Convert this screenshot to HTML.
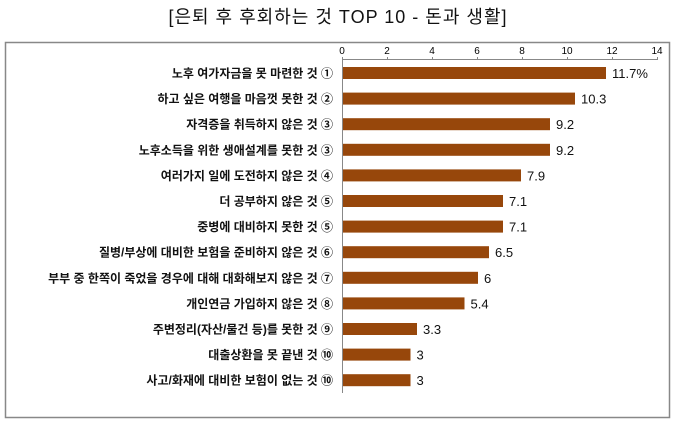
<!DOCTYPE html>
<html><head><meta charset="utf-8"><style>
body{margin:0;background:#fff;}
</style></head><body>
<svg width="676" height="420" xmlns="http://www.w3.org/2000/svg" font-family="'Liberation Sans','Noto Sans CJK KR',sans-serif">
<rect width="676" height="420" fill="#fff"/>
<text x="338" y="23" text-anchor="middle" font-size="18" fill="#111" letter-spacing="1">[은퇴 후 후회하는 것 TOP 10 - 돈과 생활]</text>
<rect x="5.5" y="42.5" width="664" height="375" fill="none" stroke="#888" stroke-width="1.5"/>
<g font-size="10" fill="#000" text-anchor="middle">
<text x="342" y="54">0</text><text x="387" y="54">2</text><text x="432" y="54">4</text><text x="477" y="54">6</text><text x="522" y="54">8</text><text x="567" y="54">10</text><text x="612" y="54">12</text><text x="657" y="54">14</text>
</g>
<g stroke="#888" stroke-width="1">
<line x1="342" y1="59.5" x2="657" y2="59.5"/>
<line x1="342.5" y1="57" x2="342.5" y2="393"/>
<line x1="387.5" y1="57" x2="387.5" y2="60"/><line x1="432.5" y1="57" x2="432.5" y2="60"/><line x1="477.5" y1="57" x2="477.5" y2="60"/><line x1="522.5" y1="57" x2="522.5" y2="60"/><line x1="567.5" y1="57" x2="567.5" y2="60"/><line x1="612.5" y1="57" x2="612.5" y2="60"/><line x1="657.5" y1="57" x2="657.5" y2="60"/>
</g>
<g fill="#97470b">
<rect x="343" y="67" width="263" height="12"/>
<rect x="343" y="92.6" width="232" height="12"/>
<rect x="343" y="118.2" width="207" height="12"/>
<rect x="343" y="143.8" width="207" height="12"/>
<rect x="343" y="169.4" width="178" height="12"/>
<rect x="343" y="195" width="160" height="12"/>
<rect x="343" y="220.6" width="160" height="12"/>
<rect x="343" y="246.2" width="146" height="12"/>
<rect x="343" y="271.8" width="135" height="12"/>
<rect x="343" y="297.4" width="121.5" height="12"/>
<rect x="343" y="323" width="74" height="12"/>
<rect x="343" y="348.6" width="67.5" height="12"/>
<rect x="343" y="374.2" width="67.5" height="12"/>
</g>
<g font-size="12" fill="#111" text-anchor="end" font-weight="bold">
<text x="333" y="77.5">노후 여가자금을 못 마련한 것 ①</text>
<text x="333" y="103.1">하고 싶은 여행을 마음껏 못한 것 ②</text>
<text x="333" y="128.7">자격증을 취득하지 않은 것 ③</text>
<text x="333" y="154.3">노후소득을 위한 생애설계를 못한 것 ③</text>
<text x="333" y="179.9">여러가지 일에 도전하지 않은 것 ④</text>
<text x="333" y="205.5">더 공부하지 않은 것 ⑤</text>
<text x="333" y="231.1">중병에 대비하지 못한 것 ⑤</text>
<text x="333" y="256.7">질병/부상에 대비한 보험을 준비하지 않은 것 ⑥</text>
<text x="333" y="282.3">부부 중 한쪽이 죽었을 경우에 대해 대화해보지 않은 것 ⑦</text>
<text x="333" y="307.9">개인연금 가입하지 않은 것 ⑧</text>
<text x="333" y="333.5">주변정리(자산/물건 등)를 못한 것 ⑨</text>
<text x="333" y="359.1">대출상환을 못 끝낸 것 ⑩</text>
<text x="333" y="384.7">사고/화재에 대비한 보험이 없는 것 ⑩</text>
</g>
<g font-size="13" fill="#111">
<text x="612" y="78">11.7%</text>
<text x="581" y="103.6">10.3</text>
<text x="556" y="129.2">9.2</text>
<text x="556" y="154.8">9.2</text>
<text x="527" y="180.4">7.9</text>
<text x="509" y="206">7.1</text>
<text x="509" y="231.6">7.1</text>
<text x="495" y="257.2">6.5</text>
<text x="484" y="282.8">6</text>
<text x="470.5" y="308.4">5.4</text>
<text x="423" y="334">3.3</text>
<text x="416.5" y="359.6">3</text>
<text x="416.5" y="385.2">3</text>
</g>
</svg>
</body></html>
